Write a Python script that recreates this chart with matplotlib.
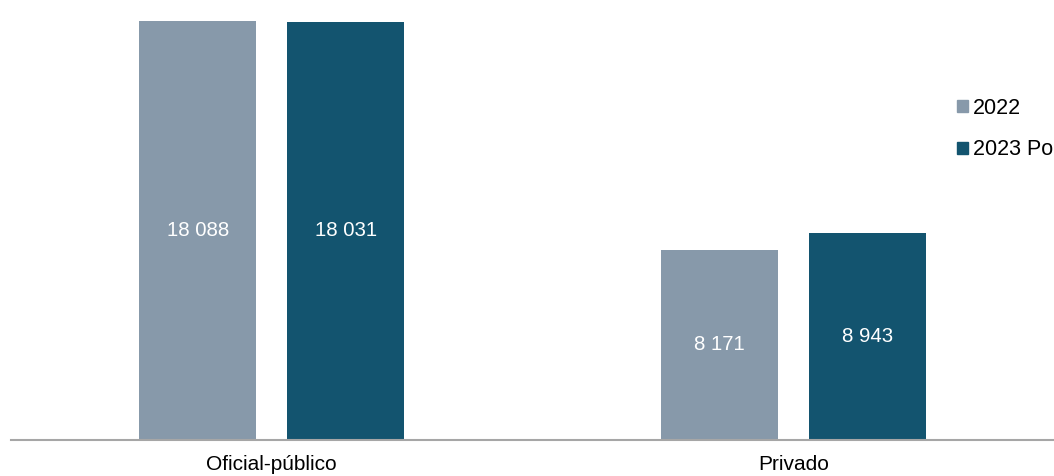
import numpy as np
import matplotlib
matplotlib.use("Agg")
from matplotlib import pyplot as plt
from matplotlib.patches import Patch

categories = ["Oficial-público", "Privado"]
series_names = ["2022", "2023 Po"]
values_2022 = [18088, 8171]
values_2023 = [18031, 8943]
labels_2022 = ["18 088", "8 171"]
labels_2023 = ["18 031", "8 943"]

c_light = "#8799AA"
c_dark = "#13546F"

plt.rcParams["font.family"] = ["Liberation Sans", "DejaVu Sans"]

fig = plt.figure(figsize=(10.54, 4.76), dpi=100)
ax = fig.add_axes([11 / 1054, 36.5 / 476, 1043 / 1054, 439.5 / 476])

x = np.arange(len(categories))
w = 0.2244
off = 0.1419
b1 = ax.bar(x - off, values_2022, w, color=c_light, label=series_names[0])
b2 = ax.bar(x + off, values_2023, w, color=c_dark, label=series_names[1])

for bars, labs in ((b1, labels_2022), (b2, labels_2023)):
    for r, t in zip(bars, labs):
        ax.text(r.get_x() + r.get_width() / 2, r.get_height() / 2, t,
                ha="center", va="center", color="white", fontsize=14.7)

ax.set_xlim(-0.5, 1.5)
ax.set_ylim(0, 19000)
ax.set_xticks(x)
ax.set_xticklabels(categories, fontsize=15)
ax.tick_params(axis="x", length=0, pad=11)
ax.set_yticks([])
for s in ("top", "right", "left"):
    ax.spines[s].set_visible(False)
ax.spines["bottom"].set_color("#A6A6A6")
ax.spines["bottom"].set_linewidth(1.5)

handles = [Patch(color=c_light), Patch(color=c_dark)]
fig.legend(handles, series_names, loc="upper left",
           bbox_to_anchor=(957 / 1054, 1 - 98 / 476),
           frameon=False, fontsize=15.5, handlelength=0.5, handleheight=0.5,
           handletextpad=0.25, labelspacing=0.95, borderpad=0, borderaxespad=0)

fig.savefig("out.png", dpi=100)
